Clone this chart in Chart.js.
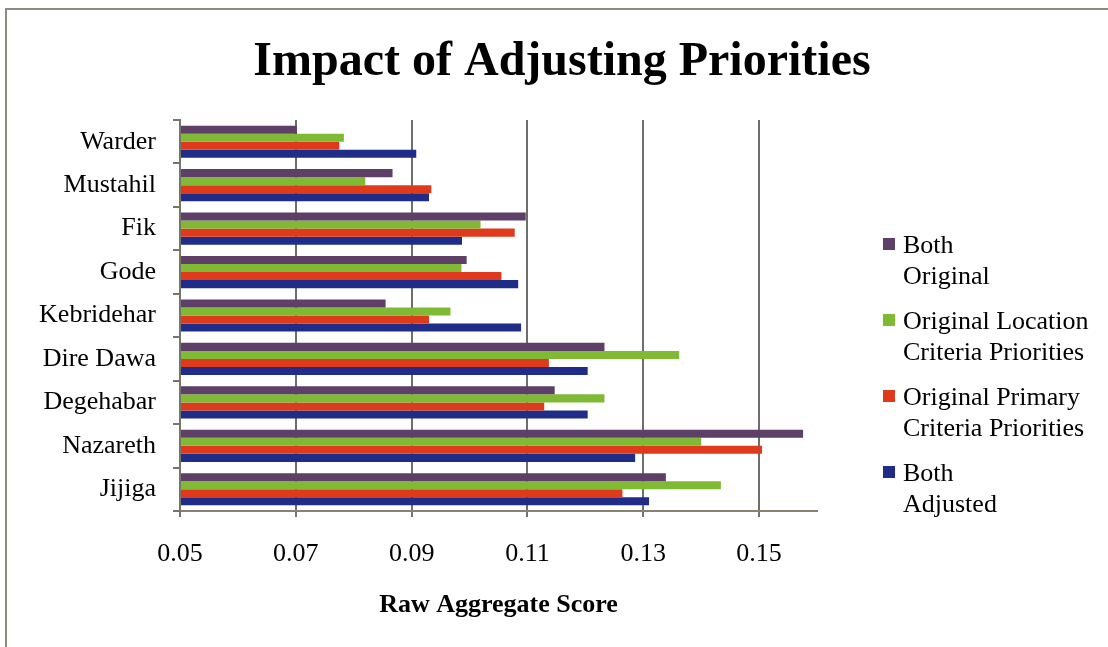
<!DOCTYPE html>
<html>
<head>
<meta charset="utf-8">
<title>Impact of Adjusting Priorities</title>
<script src="https://cdn.jsdelivr.net/npm/chart.js@4/dist/chart.umd.min.js"></script>
<style>
  html, body { margin: 0; padding: 0; background: #fff; }
  #wrap { position: relative; width: 1108px; height: 647px; overflow: hidden; }
  #frame { position: absolute; left: 5px; top: 8px; right: -10px; bottom: -10px;
           border-left: 2px solid #8d8c82; border-top: 2px solid #8d8c82; pointer-events: none; }
  canvas { position: absolute; left: 0; top: 0; }
</style>
</head>
<body>
<div id="wrap">
  <canvas id="chart" width="1108" height="647"></canvas>
  <div id="frame"></div>
</div>
<script>
// Sites compared, listed top to bottom
const sites = ['Warder', 'Mustahil', 'Fik', 'Gode', 'Kebridehar', 'Dire Dawa', 'Degehabar', 'Nazareth', 'Jijiga'];

// Raw aggregate score per site under each priority scenario
const bothOriginal      = [0.0702, 0.0867, 0.1097, 0.0995, 0.0855, 0.1233, 0.1147, 0.1576, 0.1339];
const origLocation      = [0.0783, 0.0820, 0.1019, 0.0986, 0.0967, 0.1362, 0.1233, 0.1400, 0.1434];
const origPrimary       = [0.0775, 0.0934, 0.1078, 0.1055, 0.0930, 0.1137, 0.1129, 0.1505, 0.1264];
const bothAdjusted      = [0.0908, 0.0930, 0.0987, 0.1084, 0.1089, 0.1204, 0.1204, 0.1286, 0.1310];

// Legend entries (two lines each)
const seriesNames = [
  ['Both', 'Original'],
  ['Original Location', 'Criteria Priorities'],
  ['Original Primary', 'Criteria Priorities'],
  ['Both', 'Adjusted']
];

// Score axis
const xTicks = [0.05, 0.07, 0.09, 0.11, 0.13, 0.15];
const xMin = 0.05;
const xMax = 0.16;

const colors = ['#5d3f68', '#80b934', '#df3a1c', '#1f2d88'];
const serif = "'Liberation Serif', 'Times New Roman', serif";
const axisGray = '#76756c';

Chart.defaults.font.family = serif;
Chart.defaults.color = '#000';

// Title and two-line legend drawn onto the canvas
const decorations = {
  id: 'decorations',
  afterDraw(chart) {
    const ctx = chart.ctx;
    ctx.save();
    ctx.fillStyle = '#000';
    ctx.font = 'bold 48px ' + serif;
    ctx.textAlign = 'center';
    ctx.textBaseline = 'alphabetic';
    ctx.fillText('Impact of Adjusting Priorities', 562, 75);

    ctx.font = '26px ' + serif;
    ctx.textAlign = 'left';
    const firstLine = 244;
    const itemGap = 76;
    const lineGap = 31;
    seriesNames.forEach((lines, i) => {
      const cy = firstLine + i * itemGap;
      ctx.fillStyle = colors[i];
      ctx.fillRect(883, cy - 6, 12, 12);
      ctx.fillStyle = '#000';
      lines.forEach((t, j) => ctx.fillText(t, 903, cy + 8.5 + j * lineGap));
    });
    ctx.restore();
  }
};

const data = {
  labels: sites,
  datasets: [
    { label: seriesNames[0].join(' '), data: bothOriginal, backgroundColor: colors[0] },
    { label: seriesNames[1].join(' '), data: origLocation, backgroundColor: colors[1] },
    { label: seriesNames[2].join(' '), data: origPrimary,  backgroundColor: colors[2] },
    { label: seriesNames[3].join(' '), data: bothAdjusted, backgroundColor: colors[3] }
  ].map(d => Object.assign(d, {
    base: xMin,
    borderWidth: 0,
    categoryPercentage: 0.74,
    barPercentage: 1.0
  }))
};

new Chart(document.getElementById('chart'), {
  type: 'bar',
  data,
  plugins: [decorations],
  options: {
    indexAxis: 'y',
    responsive: false,
    animation: false,
    devicePixelRatio: 1,
    layout: { padding: { top: 120, right: 291, bottom: 0, left: 0 } },
    plugins: {
      legend: { display: false },
      title: { display: false },
      tooltip: { enabled: false }
    },
    scales: {
      x: {
        type: 'linear',
        min: xMin,
        max: xMax,
        afterBuildTicks(scale) { scale.ticks = xTicks.map(v => ({ value: v })); },
        afterFit(scale) { scale.height = 136; },
        ticks: {
          padding: 22,
          font: { size: 26 },
          color: '#000',
          callback: v => Number(v).toFixed(2)
        },
        grid: {
          color: '#6e6e6a',
          lineWidth: 2,
          tickLength: 6,
          tickColor: axisGray
        },
        border: { display: true, color: '#8a8270', width: 2 },
        title: {
          display: true,
          text: 'Raw Aggregate Score',
          font: { size: 26, weight: 'bold' },
          color: '#000',
          padding: { top: 0, bottom: 26 }
        }
      },
      y: {
        type: 'category',
        afterFit(scale) { scale.width = 180; },
        ticks: { padding: 17, font: { size: 26 }, color: '#000' },
        grid: {
          offset: true,
          drawOnChartArea: false,
          drawTicks: true,
          tickLength: 7,
          color: axisGray,
          lineWidth: 2
        },
        border: { display: true, color: axisGray, width: 2 }
      }
    }
  }
});
</script>
</body>
</html>
